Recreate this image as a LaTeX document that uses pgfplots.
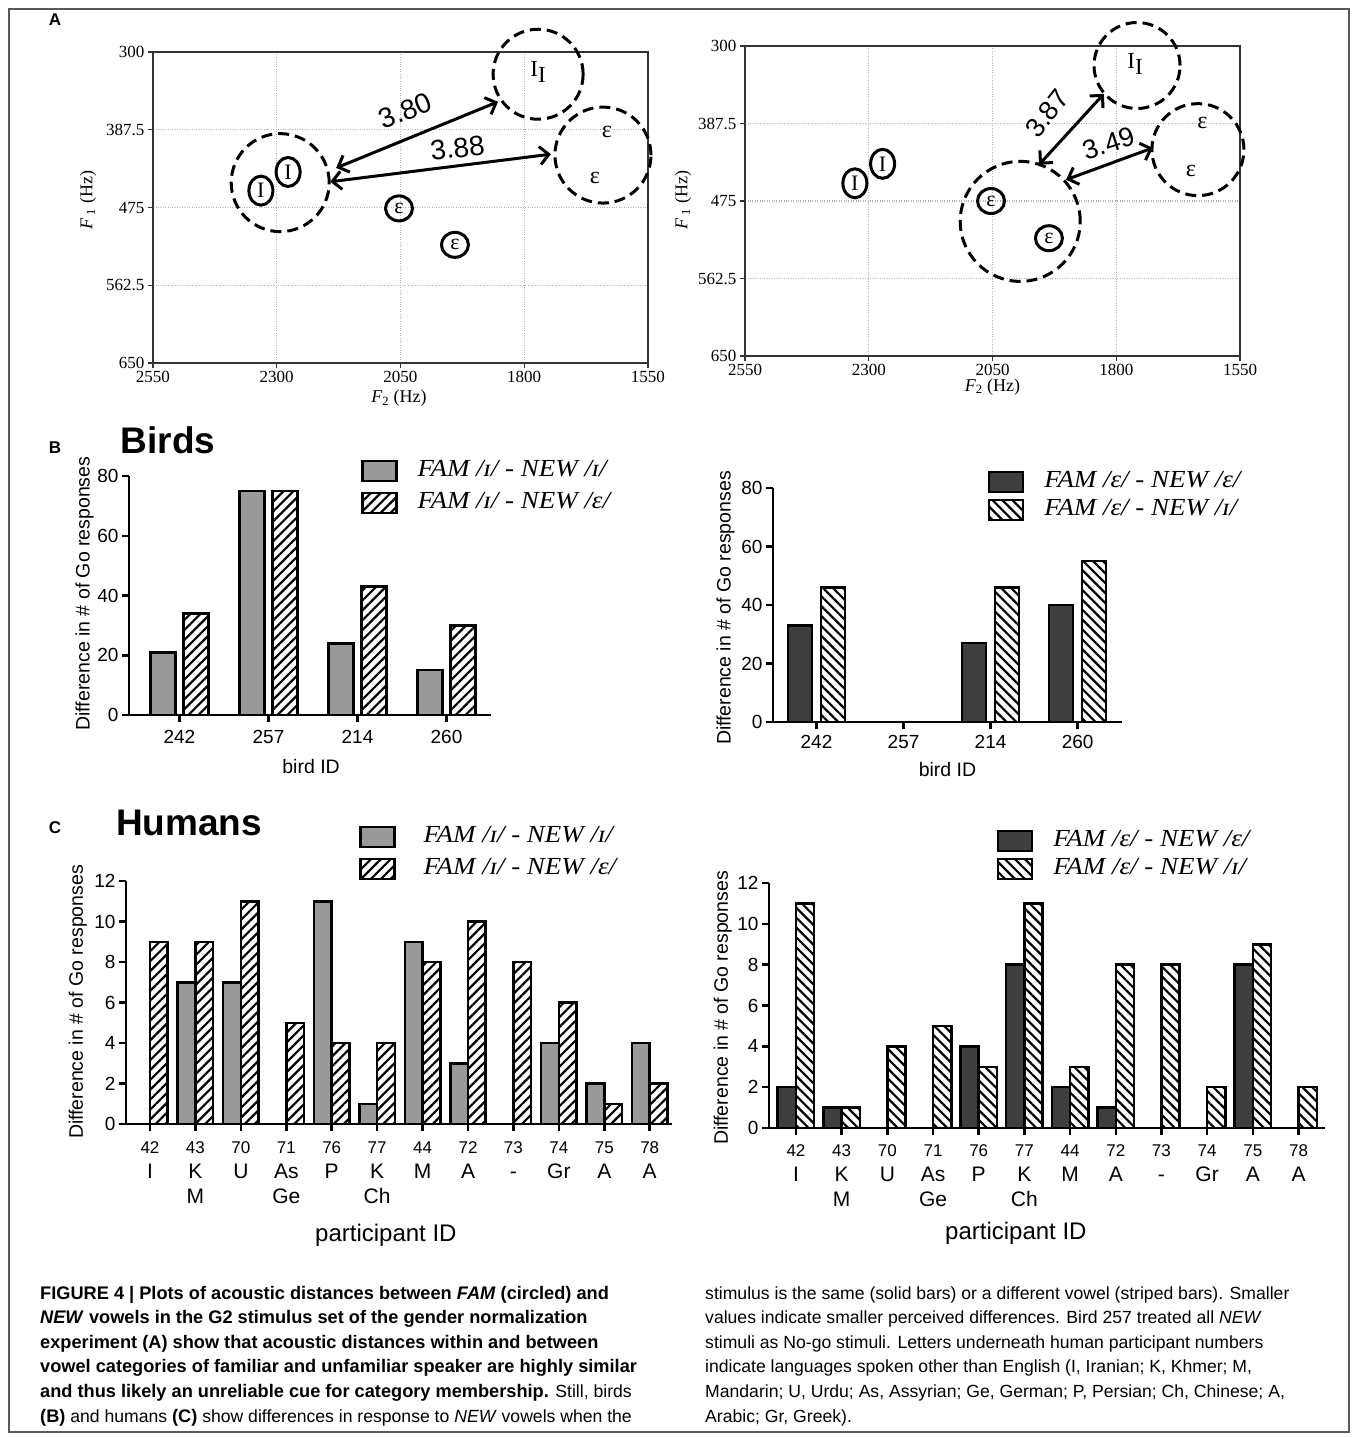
\documentclass[border=0pt]{standalone}
\usepackage{fontspec}
\setmainfont{Liberation Sans}
\newfontfamily\serif{Liberation Serif}
\newfontfamily\legserif[FakeStretch=1.1]{Liberation Serif}
\usepackage{pgfplots}
\pgfplotsset{compat=1.18}
\usetikzlibrary{patterns.meta, arrows.meta, shapes.geometric}
\definecolor{bargray}{HTML}{999999}
\definecolor{bardark}{HTML}{3E3E3E}
\newcommand\nm[1]{{\fontsize{17}{25}\selectfont #1}}
\newcommand\capfont{\fontsize{17.6}{24}\selectfont}
\newcommand\capbf{\fontsize{18.2}{24}\selectfont\bfseries}
\newcommand\lblfont{\fontsize{19.5}{22}\selectfont}
\newcommand\Alblfont{\serif\fontsize{18}{20}\selectfont}

\tikzset{
  dcirc/.style={dash pattern=on 11pt off 6pt, line width=3pt},
  darrow/.style={{Straight Barb[length=9pt,width=18pt]}-{Straight Barb[length=9pt,width=18pt]}, line width=3pt},
}
\pgfplotsset{
  formant/.style={scale only axis, anchor=south west, width=495pt, clip=false,
    xmin=1550, xmax=2550, ymin=300, ymax=650, x dir=reverse, y dir=reverse,
    xtick={1550,1800,2050,2300,2550}, xticklabels={1550,1800,2050,2300,2550},
    ytick={300,387.5,475,562.5,650}, yticklabels={300,387.5,475,562.5,650},
    grid=major, major grid style={dotted, black!30, line width=1.2pt},
    axis line style={line width=1.6pt, black!80},
    xtick pos=left, ytick pos=left,
    tick align=outside, major tick length=5pt,
    every tick/.style={black!80, line width=1.2pt},
    tick label style={font=\serif\fontsize{17}{20}\selectfont},
    /pgf/number format/assume math mode=true,
    xlabel={\textit{F}\textsubscript{2} (Hz)},
    ylabel={\textit{F}\,\textsubscript{1} (Hz)},
  },
  circI/.style={only marks, mark=none, nodes near coords, point meta=explicit symbolic,
    nodes near coords style={anchor=center, ellipse, draw=black, line width=3pt,
      minimum width=24pt, minimum height=29pt, inner sep=0pt,
      font=\serif\fontsize{22}{22}\selectfont}},
  circE/.style={only marks, mark=none, nodes near coords, point meta=explicit symbolic,
    nodes near coords style={anchor=center, ellipse, draw=black, line width=3pt,
      minimum width=27pt, minimum height=25pt, inner sep=0pt,
      font=\serif\fontsize{22}{22}\selectfont}},
  barax/.style={scale only axis, anchor=south west, clip=false,
    axis x line*=bottom, axis y line*=left,
    axis line style={line width=2.5pt, black},
    ymin=0,
    tick align=outside, major tick length=7pt,
    every tick/.style={black, line width=2.5pt},
    tick label style={font=\fontsize{19}{22}\selectfont},
    /pgf/number format/assume math mode=true,
    ylabel={Difference in \# of Go responses},
    legend style={draw=none, fill=none, inner sep=0pt, outer sep=0pt,
      font=\legserif\itshape\fontsize{24.5}{26}\selectfont,
      nodes={inner sep=0pt, text height=17pt, text depth=6pt},
      cells={anchor=west}},
  },
  boxlegend/.style={legend image code/.code={\draw[##1, line width=2.5pt] (0pt,-10pt) rectangle (34pt,10pt);}},
  solidA/.style={ybar, fill=bargray, draw=black, line width=2.5pt, boxlegend},
  solidB/.style={ybar, fill=bardark, draw=black, line width=2.5pt, boxlegend},
  hatchA/.style={ybar, draw=black, line width=2.5pt, pattern={Lines[angle=45,distance=7pt,line width=2.2pt]}, boxlegend},
  hatchB/.style={ybar, draw=black, line width=2.5pt, pattern={Lines[angle=-45,distance=7pt,line width=2.2pt]}, boxlegend},
}

\begin{document}
\begin{tikzpicture}
\path[use as bounding box] (0,0) rectangle (1357pt,-1438pt);
\draw[black!65, line width=1.3pt] (9pt,-9pt) rectangle (1349pt,-1432pt);

\node[font=\bfseries\fontsize{17}{17}\selectfont] at (55pt,-20pt) {A};
\node[font=\bfseries\fontsize{17}{17}\selectfont] at (55pt,-448pt) {B};
\node[font=\bfseries\fontsize{17}{17}\selectfont] at (55pt,-828pt) {C};
\node[font=\bfseries\fontsize{37}{37}\selectfont] at (168pt,-440pt) {Birds};
\node[font=\bfseries\fontsize{37}{37}\selectfont] at (189pt,-823pt) {Humans};

% ---------- A left ----------
\begin{axis}[formant, at={(153pt,-363pt)}, height=311pt,
  every axis x label/.style={at={(axis description cs:0.497,-0.113)}, anchor=center, font=\Alblfont},
  every axis y label/.style={at={(axis description cs:-0.131,0.524)}, rotate=90, anchor=center, font=\Alblfont}]
\addplot[circI] table[meta=lab] {
x y lab
2332 456 I
2277 435 I
};
\addplot[circE] table[meta=lab] {
x y lab
2053 476 ε
1940 517 ε
};
\draw[dcirc] (axis cs:2293,447) circle[radius=49pt];
\draw[dcirc] (axis cs:1772,325) circle[radius=45pt];
\draw[dcirc] (axis cs:1641,416) circle[radius=48pt];
\node[font=\serif\fontsize{23}{23}\selectfont] at (axis cs:1772,323) {I\raisebox{-6pt}{I}};
\node[font=\serif\fontsize{24}{24}\selectfont] at (axis cs:1633,390) {ε};
\node[font=\serif\fontsize{24}{24}\selectfont] at (axis cs:1657,442) {ε};
\draw[darrow] (axis cs:2180,430.5) -- (axis cs:1853,356);
\draw[darrow] (axis cs:2192,446) -- (axis cs:1746,415);
\node[rotate=22, font=\fontsize{28}{28}\selectfont] at (axis cs:2040,366) {3.80};
\node[rotate=7, font=\fontsize{28}{28}\selectfont] at (axis cs:1935,408) {3.88};
\end{axis}

% ---------- A right ----------
\begin{axis}[formant, at={(745pt,-356pt)}, height=310pt,
  every axis x label/.style={at={(axis description cs:0.5,-0.1)}, anchor=center, font=\Alblfont},
  every axis y label/.style={at={(axis description cs:-0.125,0.503)}, rotate=90, anchor=center, font=\Alblfont}]
\addplot[circI] table[meta=lab] {
x y lab
2328 455 I
2272 433 I
};
\addplot[circE] table[meta=lab] {
x y lab
2053 475 ε
1936 517 ε
};
\draw[dcirc] (axis cs:1994,498) circle[radius=60pt];
\draw[dcirc] (axis cs:1758,322) circle[radius=43pt];
\draw[dcirc] (axis cs:1635,417) circle[radius=46pt];
\node[font=\serif\fontsize{23}{23}\selectfont] at (axis cs:1762,320) {I\raisebox{-6pt}{I}};
\node[font=\serif\fontsize{24}{24}\selectfont] at (axis cs:1626,387) {ε};
\node[font=\serif\fontsize{24}{24}\selectfont] at (axis cs:1649,441) {ε};
\draw[darrow] (axis cs:1956,434) -- (axis cs:1825,354);
\draw[darrow] (axis cs:1901.5,451) -- (axis cs:1726,415);
\node[rotate=52, font=\fontsize{27}{27}\selectfont] at (axis cs:1940,376) {3.87};
\node[rotate=18, font=\fontsize{27}{27}\selectfont] at (axis cs:1815,410) {3.49};
\end{axis}

% ---------- B left ----------
\begin{axis}[barax, at={(129pt,-715pt)}, width=362pt, height=239pt,
  xmin=-0.567, xmax=3.5, ymax=80, ytick={0,20,40,60,80},
  xtick={0,1,2,3}, xticklabels={242,257,214,260}, xlabel={bird ID},
  xticklabel style={yshift=-5pt},
  every axis x label/.style={at={(axis description cs:0.503,-0.2176)}, anchor=center, font=\lblfont},
  every axis y label/.style={at={(axis description cs:-0.1227,0.508)}, rotate=90, anchor=center, font=\lblfont},
  legend style={at={(axis description cs:0.641,1.069)}, anchor=north west, row sep=9pt,
    /tikz/every odd column/.append style={column sep=20pt}}]
\addplot[solidA, bar width=0.28, bar shift=-0.185] coordinates {(0,21) (1,75) (2,24) (3,15)};
\addplot[hatchA, bar width=0.28, bar shift=0.185] coordinates {(0,34) (1,75) (2,43) (3,30)};
\legend{FAM /ɪ/ - NEW /ɪ/, FAM /ɪ/ - NEW /ε/}
\end{axis}

% ---------- B right ----------
\begin{axis}[barax, at={(773pt,-722pt)}, width=349pt, height=234pt,
  xmin=-0.5, xmax=3.51, ymax=80, ytick={0,20,40,60,80},
  xtick={0,1,2,3}, xticklabels={242,257,214,260}, xlabel={bird ID},
  xticklabel style={yshift=-3pt},
  every axis x label/.style={at={(axis description cs:0.5,-0.205)}, anchor=center, font=\lblfont},
  every axis y label/.style={at={(axis description cs:-0.136,0.487)}, rotate=90, anchor=center, font=\lblfont},
  legend style={at={(axis description cs:0.616,1.075)}, anchor=north west, row sep=5pt,
    /tikz/every odd column/.append style={column sep=20pt}}]
\addplot[solidB, bar width=0.276, bar shift=-0.19] coordinates {(0,33) (1,0) (2,27) (3,40)};
\addplot[hatchB, bar width=0.276, bar shift=0.19] coordinates {(0,46) (1,0) (2,46) (3,55)};
\legend{FAM /ε/ - NEW /ε/, FAM /ε/ - NEW /ɪ/}
\end{axis}

% ---------- C left ----------
\begin{axis}[barax, at={(126pt,-1124pt)}, width=546pt, height=243pt,
  xmin=-0.528, xmax=11.49, ymax=12, ytick={0,2,4,6,8,10,12},
  xtick={0,1,2,3,4,5,6,7,8,9,10,11},
  xticklabels={{\nm{42}\\I}, {\nm{43}\\K\\M}, {\nm{70}\\U}, {\nm{71}\\As\\Ge}, {\nm{76}\\P}, {\nm{77}\\K\\Ch}, {\nm{44}\\M}, {\nm{72}\\A}, {\nm{73}\\-}, {\nm{74}\\Gr}, {\nm{75}\\A}, {\nm{78}\\A}},
  xticklabel style={align=center, font=\fontsize{21}{25}\selectfont, anchor=north, yshift=-7pt},
  xlabel={participant ID},
  every axis x label/.style={at={(axis description cs:0.476,-0.457)}, anchor=center, font=\fontsize{24}{26}\selectfont},
  every axis y label/.style={at={(axis description cs:-0.088,0.502)}, rotate=90, anchor=center, font=\lblfont},
  legend style={at={(axis description cs:0.427,1.228)}, anchor=north west, row sep=9pt,
    /tikz/every odd column/.append style={column sep=28pt}}]
\addplot[solidA, bar width=0.39, bar shift=-0.195] coordinates {(0,0) (1,7) (2,7) (3,0) (4,11) (5,1) (6,9) (7,3) (8,0) (9,4) (10,2) (11,4)};
\addplot[hatchA, bar width=0.39, bar shift=0.195] coordinates {(0,9) (1,9) (2,11) (3,5) (4,4) (5,4) (6,8) (7,10) (8,8) (9,6) (10,1) (11,2)};
\legend{FAM /ɪ/ - NEW /ɪ/, FAM /ɪ/ - NEW /ε/}
\end{axis}

% ---------- C right ----------
\begin{axis}[barax, at={(769pt,-1128pt)}, width=556pt, height=245pt,
  xmin=-0.59, xmax=11.58, ymax=12, ytick={0,2,4,6,8,10,12},
  xtick={0,1,2,3,4,5,6,7,8,9,10,11},
  xticklabels={{\nm{42}\\I}, {\nm{43}\\K\\M}, {\nm{70}\\U}, {\nm{71}\\As\\Ge}, {\nm{76}\\P}, {\nm{77}\\K\\Ch}, {\nm{44}\\M}, {\nm{72}\\A}, {\nm{73}\\-}, {\nm{74}\\Gr}, {\nm{75}\\A}, {\nm{78}\\A}},
  xticklabel style={align=center, font=\fontsize{21}{25}\selectfont, anchor=north, yshift=-6pt},
  xlabel={participant ID},
  every axis x label/.style={at={(axis description cs:0.444,-0.43)}, anchor=center, font=\fontsize{24}{26}\selectfont},
  every axis y label/.style={at={(axis description cs:-0.083,0.49)}, rotate=90, anchor=center, font=\lblfont},
  legend style={at={(axis description cs:0.41,1.218)}, anchor=north west, row sep=5pt,
    /tikz/every odd column/.append style={column sep=20pt}}]
\addplot[solidB, bar width=0.4, bar shift=-0.2] coordinates {(0,2) (1,1) (2,0) (3,0) (4,4) (5,8) (6,2) (7,1) (8,0) (9,0) (10,8) (11,0)};
\addplot[hatchB, bar width=0.4, bar shift=0.2] coordinates {(0,11) (1,1) (2,4) (3,5) (4,3) (5,11) (6,3) (7,8) (8,8) (9,2) (10,9) (11,2)};
\legend{FAM /ε/ - NEW /ε/, FAM /ε/ - NEW /ɪ/}
\end{axis}

% ---------- caption ----------
\begin{scope}[every node/.style={anchor=base west, inner sep=0pt, font=\capfont}]
\node at (40pt,-1299pt) {\capbf FIGURE 4 | Plots of acoustic distances between \textit{FAM} (circled) and};
\node at (40pt,-1323.6pt) {\capbf \textit{NEW} vowels in the G2 stimulus set of the gender normalization};
\node at (40pt,-1348.2pt) {\capbf experiment (A) show that acoustic distances within and between};
\node at (40pt,-1372.8pt) {\capbf vowel categories of familiar and unfamiliar speaker are highly similar};
\node at (40pt,-1397.4pt) {{\capbf and thus likely an unreliable cue for category membership.} Still, birds};
\node at (40pt,-1422pt) {{\capbf (B)} and humans {\capbf (C)} show differences in response to \textit{NEW} vowels when the};
\node at (705pt,-1299pt) {stimulus is the same (solid bars) or a different vowel (striped bars). Smaller};
\node at (705pt,-1323.6pt) {values indicate smaller perceived differences. Bird 257 treated all \textit{NEW}};
\node at (705pt,-1348.2pt) {stimuli as No-go stimuli. Letters underneath human participant numbers};
\node at (705pt,-1372.8pt) {indicate languages spoken other than English (I, Iranian; K, Khmer; M,};
\node at (705pt,-1397.4pt) {Mandarin; U, Urdu; As, Assyrian; Ge, German; P, Persian; Ch, Chinese; A,};
\node at (705pt,-1422pt) {Arabic; Gr, Greek).};
\end{scope}
\end{tikzpicture}
\end{document}
